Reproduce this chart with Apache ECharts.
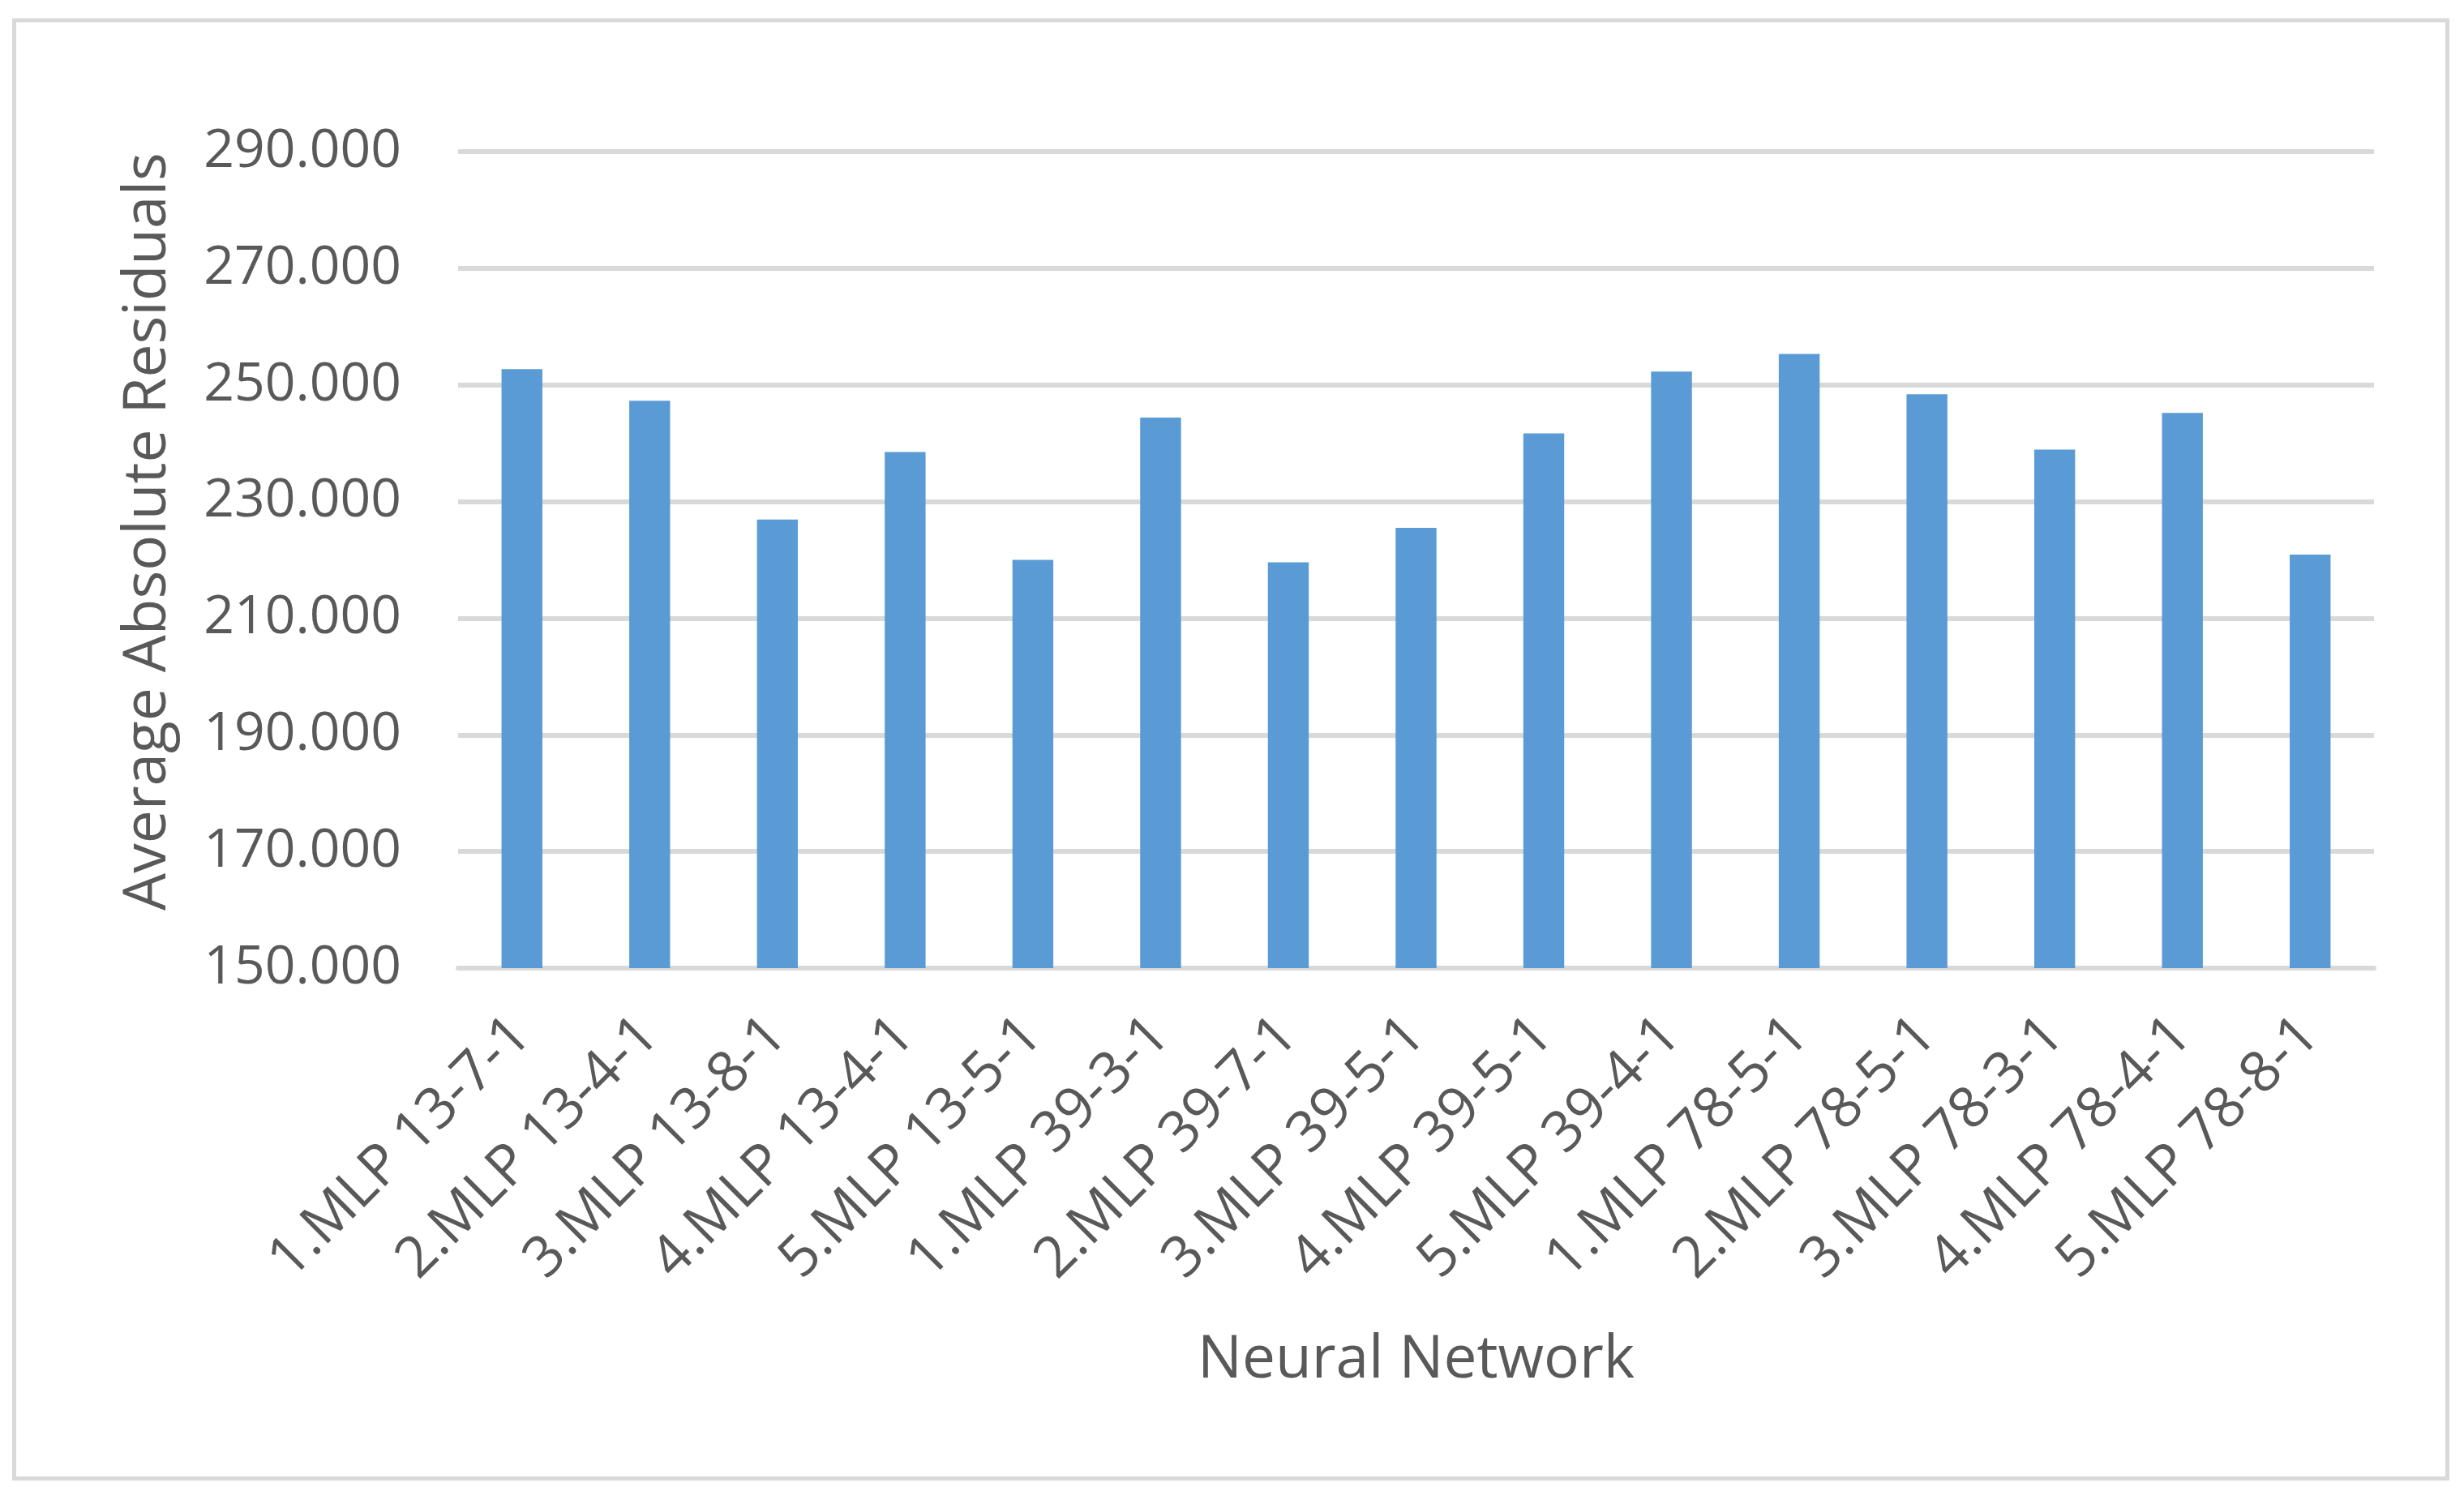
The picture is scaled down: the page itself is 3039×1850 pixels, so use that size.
<!DOCTYPE html>
<html>
<head>
<meta charset="utf-8">
<script src="https://cdn.jsdelivr.net/npm/echarts@6/dist/echarts.min.js"></script>
<style>
  html, body { margin: 0; padding: 0; background: #fff; }
  #chart { width: 3039px; height: 1850px; }
</style>
</head>
<body>
<div id="chart"></div>
<script>
var networks = [
   '1.MLP 13-7-1', '2.MLP 13-4-1', '3.MLP 13-8-1', '4.MLP 13-4-1', '5.MLP 13-5-1',
   '1.MLP 39-3-1', '2.MLP 39-7-1', '3.MLP 39-5-1', '4.MLP 39-5-1', '5.MLP 39-4-1',
   '1.MLP 78-5-1', '2.MLP 78-5-1', '3.MLP 78-3-1', '4.MLP 78-4-1', '5.MLP 78-8-1'
];
var residuals = [
   252.7, 247.3, 226.9, 238.5, 220.0,
   244.4, 219.6, 225.5, 241.7, 252.3,
   255.3, 248.4, 238.9, 245.2, 220.9
];
var yMin = 150;
var yMax = 290;
var yStep = 20;

var textColor = '#595959';
var lineColor = '#d9d9d9';
var fontName = 'Open Sans';

var chart = echarts.init(document.getElementById('chart'));

var option = {
   animation: false,
   backgroundColor: '#fff',
   grid: {
      left: 565,
      right: 111,
      top: 187,
      bottom: 656
   },
   graphic: [{
      type: 'rect',
      shape: { x: 17.5, y: 25, width: 3001, height: 1798.5 },
      style: { fill: 'none', stroke: lineColor, lineWidth: 5 },
      silent: true
   }],
   xAxis: {
      type: 'category',
      data: networks,
      name: 'Neural Network',
      nameLocation: 'middle',
      nameGap: 448,
      nameTextStyle: { color: textColor, fontSize: 73, fontFamily: fontName },
      axisLine: { show: true, lineStyle: { color: lineColor, width: 6 } },
      axisTick: { show: false },
      axisLabel: {
         rotate: 45,
         margin: 72,
         interval: 0,
         color: textColor,
         fontSize: 70,
         fontFamily: fontName
      }
   },
   yAxis: {
      type: 'value',
      min: yMin,
      max: yMax,
      interval: yStep,
      name: 'Average Absolute Residuals',
      nameLocation: 'middle',
      nameGap: 345,
      nameTextStyle: {
         color: textColor,
         fontSize: 73,
         fontFamily: fontName,
         padding: [0, 0, 0, 70]
      },
      axisLine: { show: false },
      axisTick: { show: false },
      axisLabel: {
         margin: 70,
         color: textColor,
         fontSize: 66,
         fontFamily: fontName,
         formatter: function(v) { return v.toFixed(3); }
      },
      splitLine: { lineStyle: { color: lineColor, width: 6 } }
   },
   series: [{
      type: 'bar',
      data: residuals,
      barWidth: '32%',
      itemStyle: { color: '#5b9bd5' }
   }]
};

chart.setOption(option);
</script>
</body>
</html>
